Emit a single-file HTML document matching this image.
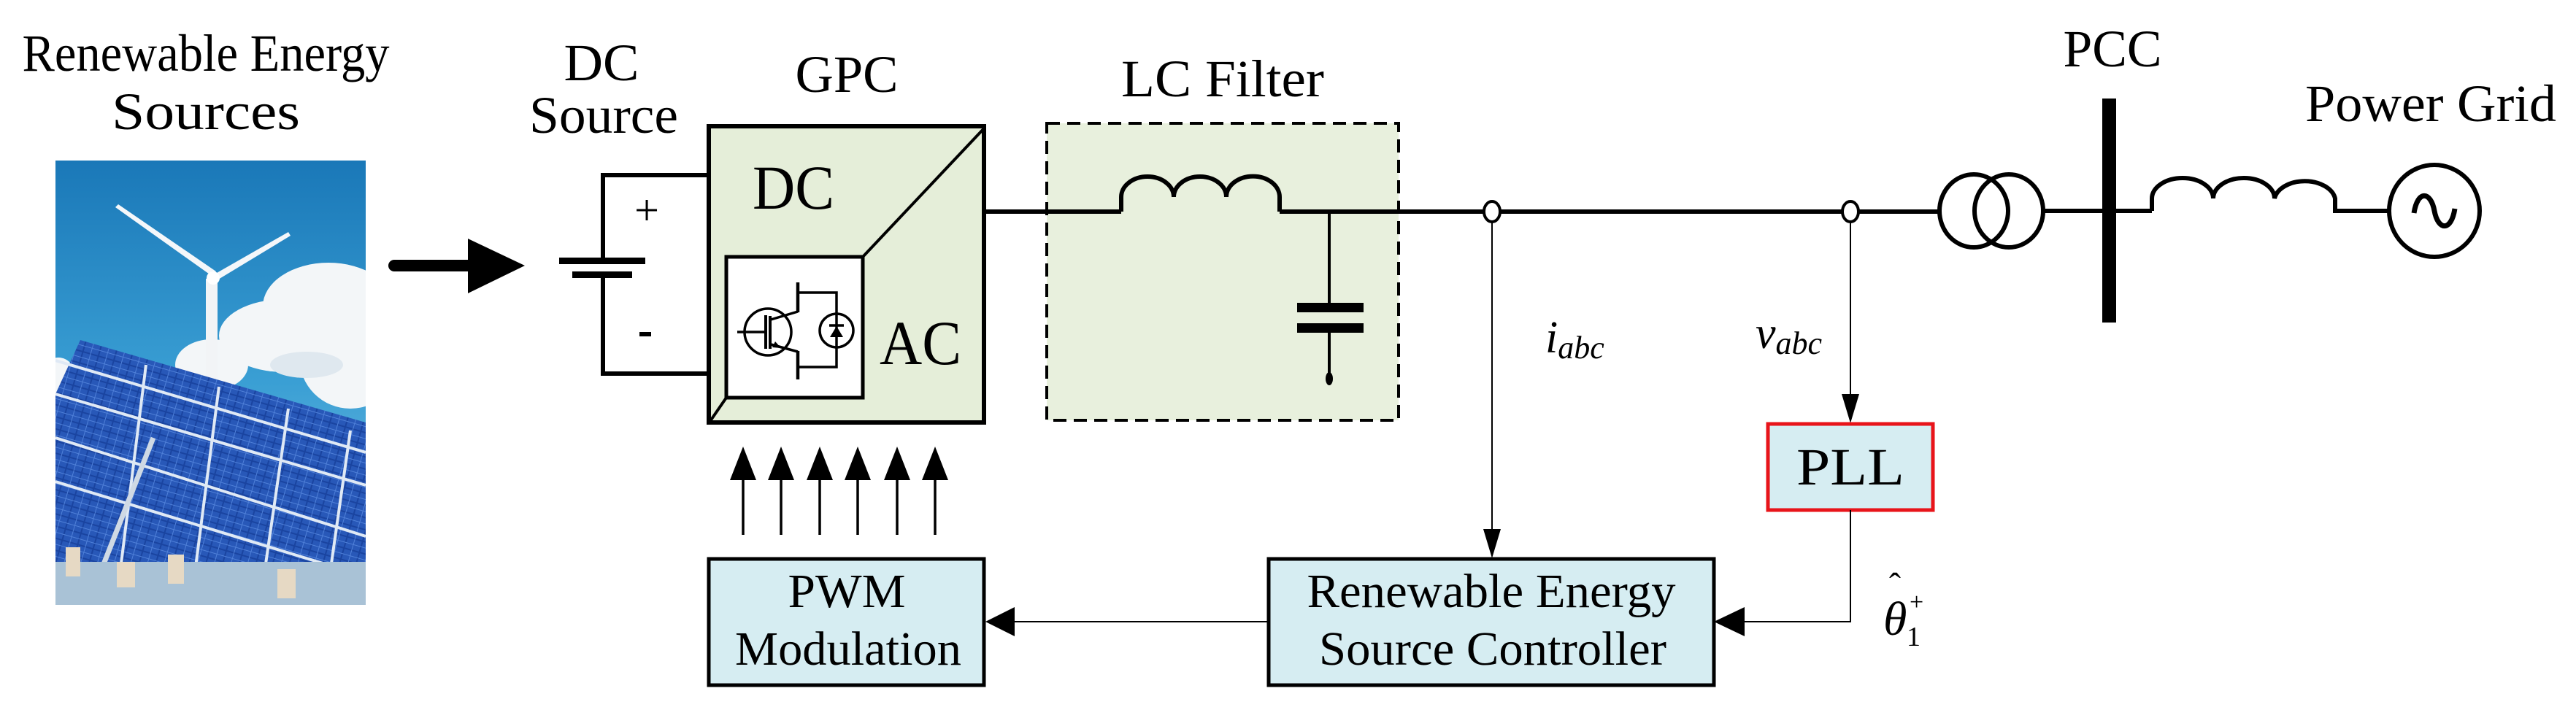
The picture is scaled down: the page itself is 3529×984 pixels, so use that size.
<!DOCTYPE html>
<html><head><meta charset="utf-8"><style>
html,body{margin:0;padding:0;background:#fff;}
svg{display:block;}
text{font-family:"Liberation Serif","DejaVu Serif",serif;fill:#000;}
</style></head><body>
<svg width="3529" height="984" viewBox="0 0 3529 984" xmlns="http://www.w3.org/2000/svg" font-family="Liberation Serif, serif">
<defs>
<linearGradient id="sky" x1="0" y1="0" x2="0" y2="1">
<stop offset="0" stop-color="#1a78b8"/><stop offset="0.5" stop-color="#3a9fd4"/><stop offset="1" stop-color="#8cc6e6"/>
</linearGradient>
<pattern id="cells" width="22" height="16" patternUnits="userSpaceOnUse" patternTransform="rotate(16)">
<rect width="22" height="16" fill="#1a44a0"/>
<rect x="1" y="1" width="20" height="14" fill="#2858b8"/>
<line x1="0" y1="8" x2="22" y2="8" stroke="#4f80d8" stroke-width="1"/>
<line x1="11" y1="0" x2="11" y2="16" stroke="#4f80d8" stroke-width="1"/>
</pattern>
<clipPath id="pc"><rect x="76" y="220" width="425" height="609"/></clipPath>
</defs>

<!-- Photo -->
<g clip-path="url(#pc)">
<rect x="76" y="220" width="425" height="609" fill="url(#sky)"/>
<g fill="#f3f6f8">
<ellipse cx="450" cy="420" rx="90" ry="60"/>
<ellipse cx="390" cy="460" rx="90" ry="50"/>
<ellipse cx="480" cy="490" rx="70" ry="70"/>
<ellipse cx="290" cy="500" rx="50" ry="35"/>
<ellipse cx="80" cy="520" rx="25" ry="30"/>
</g>
<ellipse cx="420" cy="500" rx="50" ry="18" fill="#dfe8ef"/>
<!-- turbine -->
<rect x="282" y="382" width="16" height="160" fill="#f2f4f6"/>
<polygon points="290,378 158,284 162,280 296,372" fill="#f4f7fa"/>
<polygon points="290,378 395,318 398,323 294,386" fill="#f4f7fa"/>
<circle cx="292" cy="381" r="9" fill="#fff"/>
<!-- panels -->
<polygon points="76,540 110,466 501,579 501,800 76,790" fill="url(#cells)"/>
<g stroke="#dfe9f5" stroke-width="4">
<line x1="76" y1="494" x2="501" y2="620"/>
<line x1="76" y1="540" x2="501" y2="665"/>
<line x1="76" y1="600" x2="501" y2="735"/>
<line x1="76" y1="660" x2="501" y2="790"/>
<line x1="200" y1="500" x2="160" y2="820"/>
<line x1="300" y1="530" x2="265" y2="800"/>
<line x1="395" y1="560" x2="360" y2="800"/>
<line x1="480" y1="590" x2="450" y2="800"/>
</g>
<line x1="210" y1="600" x2="120" y2="829" stroke="#cfd9e4" stroke-width="7"/>
<rect x="76" y="770" width="425" height="59" fill="#a9c2d6"/>
<g fill="#e6d9c4"><rect x="90" y="750" width="20" height="40"/><rect x="160" y="770" width="25" height="35"/><rect x="230" y="760" width="22" height="40"/><rect x="380" y="780" width="25" height="40"/></g>
</g>

<!-- Texts top -->
<text x="282" y="97" font-size="72" text-anchor="middle" textLength="503" lengthAdjust="spacingAndGlyphs">Renewable Energy</text>
<text x="282" y="177" font-size="72" text-anchor="middle" textLength="258" lengthAdjust="spacingAndGlyphs">Sources</text>
<text x="824" y="110" font-size="72" text-anchor="middle" textLength="103" lengthAdjust="spacingAndGlyphs">DC</text>
<text x="827" y="182" font-size="72" text-anchor="middle" textLength="204" lengthAdjust="spacingAndGlyphs">Source</text>
<text x="1160" y="126" font-size="72" text-anchor="middle" textLength="141" lengthAdjust="spacingAndGlyphs">GPC</text>
<text x="1675" y="132" font-size="72" text-anchor="middle" textLength="278" lengthAdjust="spacingAndGlyphs">LC Filter</text>
<text x="2894" y="91" font-size="72" text-anchor="middle" textLength="135" lengthAdjust="spacingAndGlyphs">PCC</text>
<text x="3330" y="166" font-size="72" text-anchor="middle" textLength="344" lengthAdjust="spacingAndGlyphs">Power Grid</text>

<!-- Big arrow -->
<line x1="540" y1="364" x2="650" y2="364" stroke="#000" stroke-width="16" stroke-linecap="round"/>
<polygon points="641,327 719,364 641,402" fill="#000"/>

<!-- Battery -->
<g stroke="#000" stroke-width="6" fill="none">
<polyline points="971,240 826,240 826,357"/>
<polyline points="971,512 826,512 826,376"/>
</g>
<rect x="766" y="353" width="118" height="9" fill="#000"/>
<rect x="784" y="372" width="82" height="9" fill="#000"/>
<text x="886" y="308" font-size="60" text-anchor="middle">+</text>
<rect x="876" y="455" width="16" height="6" fill="#000"/>

<!-- GPC -->
<rect x="971" y="173" width="377" height="406" fill="#e5eed9" stroke="#000" stroke-width="6"/>
<line x1="1348" y1="176" x2="1182" y2="352" stroke="#000" stroke-width="4"/>
<line x1="995" y1="545" x2="973" y2="577" stroke="#000" stroke-width="4"/>
<rect x="995" y="352" width="187" height="193" fill="#fff" stroke="#000" stroke-width="5"/>
<text x="1087" y="286" font-size="86" text-anchor="middle" textLength="112" lengthAdjust="spacingAndGlyphs">DC</text>
<text x="1261" y="499" font-size="86" text-anchor="middle" textLength="112" lengthAdjust="spacingAndGlyphs">AC</text>
<!-- IGBT -->
<g stroke="#000" stroke-width="3.5" fill="none">
<circle cx="1052" cy="455" r="32"/>
<line x1="1010" y1="455" x2="1048" y2="455"/>
<line x1="1049" y1="432" x2="1049" y2="478" stroke-width="4"/>
<line x1="1055" y1="433" x2="1055" y2="478" stroke-width="4"/>
<line x1="1056" y1="438" x2="1093" y2="427"/>
<line x1="1056" y1="472" x2="1093" y2="482"/>
<line x1="1093" y1="387" x2="1093" y2="428" stroke-width="4.5"/>
<line x1="1093" y1="481" x2="1093" y2="520" stroke-width="4.5"/>
<polyline points="1093,401 1146,401 1146,430"/>
<polyline points="1093,503 1146,503 1146,476"/>
<circle cx="1146" cy="453" r="23"/>
<line x1="1146" y1="430" x2="1146" y2="476"/>
<line x1="1136" y1="446" x2="1156" y2="446"/>
</g>
<polygon points="1146,447 1137,462 1155,462" fill="#000"/>
<polygon points="1070,477 1062,468 1058,476" fill="#000"/>

<!-- 6 arrows -->
<g stroke="#000" stroke-width="3.5">
<line x1="1018" y1="640" x2="1018" y2="733"/><line x1="1070" y1="640" x2="1070" y2="733"/>
<line x1="1123" y1="640" x2="1123" y2="733"/><line x1="1175" y1="640" x2="1175" y2="733"/>
<line x1="1229" y1="640" x2="1229" y2="733"/><line x1="1281" y1="640" x2="1281" y2="733"/>
</g>
<g fill="#000">
<polygon points="1018,612 1000,658 1036,658"/><polygon points="1070,612 1052,658 1088,658"/>
<polygon points="1123,612 1105,658 1141,658"/><polygon points="1175,612 1157,658 1193,658"/>
<polygon points="1229,612 1211,658 1247,658"/><polygon points="1281,612 1263,658 1299,658"/>
</g>

<!-- PWM -->
<rect x="971" y="766" width="377" height="173" fill="#d6edf2" stroke="#000" stroke-width="5"/>
<text x="1160" y="832" font-size="66" text-anchor="middle" textLength="161" lengthAdjust="spacingAndGlyphs">PWM</text>
<text x="1162" y="911" font-size="66" text-anchor="middle" textLength="310" lengthAdjust="spacingAndGlyphs">Modulation</text>

<!-- LC filter -->
<rect x="1434" y="169" width="482" height="407" fill="#e5eed9" fill-opacity="0.9" stroke="#000" stroke-width="4" stroke-dasharray="18,10"/>
<line x1="1348" y1="290" x2="1536" y2="290" stroke="#000" stroke-width="6"/>
<line x1="1753" y1="290" x2="2656" y2="290" stroke="#000" stroke-width="6"/>
<path d="M1536,290 L1536,270 A36,28 0 0 1 1608,270 A36,28 0 0 1 1680,270 A36,28 0 0 1 1753,270 L1753,290" fill="none" stroke="#000" stroke-width="6"/>
<line x1="1821" y1="290" x2="1821" y2="418" stroke="#000" stroke-width="4"/>
<rect x="1777" y="415" width="91" height="13" fill="#000"/>
<rect x="1777" y="443" width="91" height="13" fill="#000"/>
<line x1="1821" y1="456" x2="1821" y2="515" stroke="#000" stroke-width="4"/>
<ellipse cx="1821" cy="519" rx="5" ry="9" fill="#000"/>

<!-- sensors -->
<ellipse cx="2044" cy="290" rx="11" ry="14" fill="#fff" stroke="#000" stroke-width="4"/>
<ellipse cx="2535" cy="290" rx="11" ry="14" fill="#fff" stroke="#000" stroke-width="4"/>
<line x1="2044" y1="304" x2="2044" y2="730" stroke="#000" stroke-width="2"/>
<polygon points="2044,765 2032,725 2056,725" fill="#000"/>
<line x1="2535" y1="304" x2="2535" y2="545" stroke="#000" stroke-width="2"/>
<polygon points="2535,580 2523,540 2547,540" fill="#000"/>
<text x="2117" y="483" font-size="62" font-style="italic">i<tspan font-size="44" dy="8">abc</tspan></text>
<text x="2405" y="477" font-size="62" font-style="italic">v<tspan font-size="44" dy="8">abc</tspan></text>

<!-- PLL -->
<rect x="2422" y="581" width="226" height="118" fill="#d6edf2" stroke="#e8141a" stroke-width="5"/>
<text x="2535" y="664" font-size="72" text-anchor="middle" textLength="148" lengthAdjust="spacingAndGlyphs">PLL</text>
<polyline points="2535,699 2535,852 2385,852" fill="none" stroke="#000" stroke-width="2"/>
<polygon points="2348,852 2390,832 2390,872" fill="#000"/>
<text x="2580" y="870" font-size="66" font-style="italic">θ</text>
<text x="2588" y="818" font-size="48">ˆ</text>
<text x="2616" y="836" font-size="34">+</text>
<text x="2612" y="885" font-size="38">1</text>

<!-- REC -->
<rect x="1738" y="766" width="610" height="173" fill="#d6edf2" stroke="#000" stroke-width="5"/>
<text x="2043" y="832" font-size="66" text-anchor="middle" textLength="505" lengthAdjust="spacingAndGlyphs">Renewable Energy</text>
<text x="2045" y="911" font-size="66" text-anchor="middle" textLength="476" lengthAdjust="spacingAndGlyphs">Source Controller</text>
<line x1="1738" y1="852" x2="1385" y2="852" stroke="#000" stroke-width="2"/>
<polygon points="1350,852 1390,832 1390,872" fill="#000"/>

<!-- transformer -->
<ellipse cx="2704" cy="289" rx="47" ry="50" fill="none" stroke="#000" stroke-width="6"/>
<ellipse cx="2752" cy="289" rx="47" ry="50" fill="none" stroke="#000" stroke-width="6"/>
<line x1="2799" y1="289" x2="2948" y2="289" stroke="#000" stroke-width="6"/>
<rect x="2880" y="135" width="19" height="307" fill="#000"/>
<path d="M2948,289 L2948,272 A42,28 0 0 1 3032,272 A42,28 0 0 1 3116,272 A42,28 0 0 1 3199,272 L3199,289 L3272,289" fill="none" stroke="#000" stroke-width="6"/>
<ellipse cx="3335" cy="289" rx="62" ry="63" fill="none" stroke="#000" stroke-width="6"/>
<path d="M3307,292 C3312,260 3330,262 3335,289 C3340,316 3358,318 3363,286" fill="none" stroke="#000" stroke-width="7"/>
</svg>
</body></html>
